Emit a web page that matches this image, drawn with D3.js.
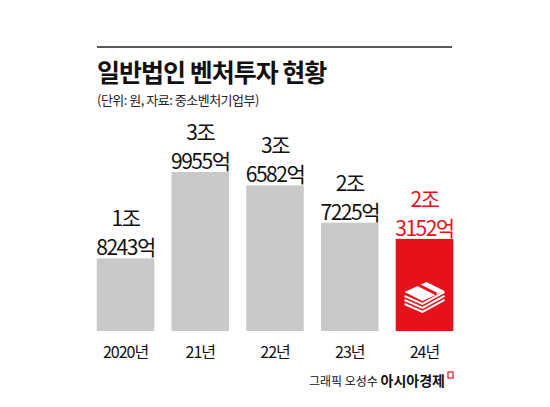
<!DOCTYPE html><html><head><meta charset="utf-8"><script src="https://cdn.jsdelivr.net/npm/d3@7"></script>
<style>body{margin:0;background:#fff}text{font-family:"Noto Sans CJK KR"}</style></head><body><svg id="c" width="550" height="407"></svg>
<script>
const categories=["2020년","21년","22년","23년","24년"];
const values=[18243,39955,36582,27225,23152];
const line1=["1조","3조","3조","2조","2조"];
const line2=["8243억","9955억","6582억","7225억","3152억"];
const svg=d3.select("#c");
svg.append("line").attr("x1",97).attr("x2",452).attr("y1",47).attr("y2",47).attr("stroke","#222").attr("stroke-width",1.5);
svg.append("text").attr("x",97).attr("y",82).attr("font-size",25).attr("font-weight",700).attr("letter-spacing",-1).attr("fill","#111").text("일반법인 벤처투자 현황");
svg.append("text").attr("x",97).attr("y",105).attr("font-size",13).attr("letter-spacing",-0.5).attr("fill","#222").text("(단위: 원, 자료: 중소벤처기업부)");
const x=d3.scaleBand().domain(categories).range([93,457]).paddingInner(0.23).paddingOuter(0.05);
const y=d3.scaleLinear().domain([0,39955]).range([331,172]);
const g=svg.selectAll("g.b").data(values).join("g");
g.append("rect").attr("x",(d,i)=>x(categories[i])).attr("width",x.bandwidth()).attr("y",d=>y(d)).attr("height",d=>331-y(d)).attr("fill",(d,i)=>i==4?"#e5121b":"#c9c9c9");
g.append("text").attr("x",(d,i)=>x(categories[i])+x.bandwidth()/2).attr("y",d=>y(d)-32).attr("text-anchor","middle").attr("font-size",21).attr("letter-spacing",-1.5).attr("fill",(d,i)=>i==4?"#e5121b":"#111").text((d,i)=>line1[i]);
g.append("text").attr("x",(d,i)=>x(categories[i])+x.bandwidth()/2).attr("y",d=>y(d)-3).attr("text-anchor","middle").attr("font-size",21).attr("letter-spacing",-1.5).attr("fill",(d,i)=>i==4?"#e5121b":"#111").text((d,i)=>line2[i]);
g.append("text").attr("x",(d,i)=>x(categories[i])+x.bandwidth()/2).attr("y",358).attr("text-anchor","middle").attr("font-size",16).attr("letter-spacing",-1).attr("fill","#111").text((d,i)=>categories[i]);
const cx=x("24년")+x.bandwidth()/2, cy=y(values[4])+ (331-y(values[4]))*0.62;
const ic=svg.append("g").attr("transform",`translate(${cx},${cy})`).attr("fill","none").attr("stroke","#fff").attr("stroke-width",2);
[0,4,8].forEach(o=>ic.append("path").attr("d",`M-20,${o} L-2,${o+8} L20,${o-4}`));
ic.append("path").attr("d","M-20,-4 L2,-14 L20,-5 L-2,5 Z").attr("fill","#fff").attr("stroke","none");
ic.append("path").attr("d","M-6,-11 L12,-2").attr("stroke","#e5121b").attr("stroke-width",3);
svg.append("text").attr("x",445).attr("y",386).attr("text-anchor","end").attr("font-size",12).attr("fill","#111").html('그래픽 오성수 <tspan font-weight="700" font-size="14">아시아경제</tspan>');
svg.append("rect").attr("x",448).attr("y",372).attr("width",5).attr("height",6).attr("fill","none").attr("stroke","#e5121b").attr("stroke-width",1.2);
</script></body></html>
